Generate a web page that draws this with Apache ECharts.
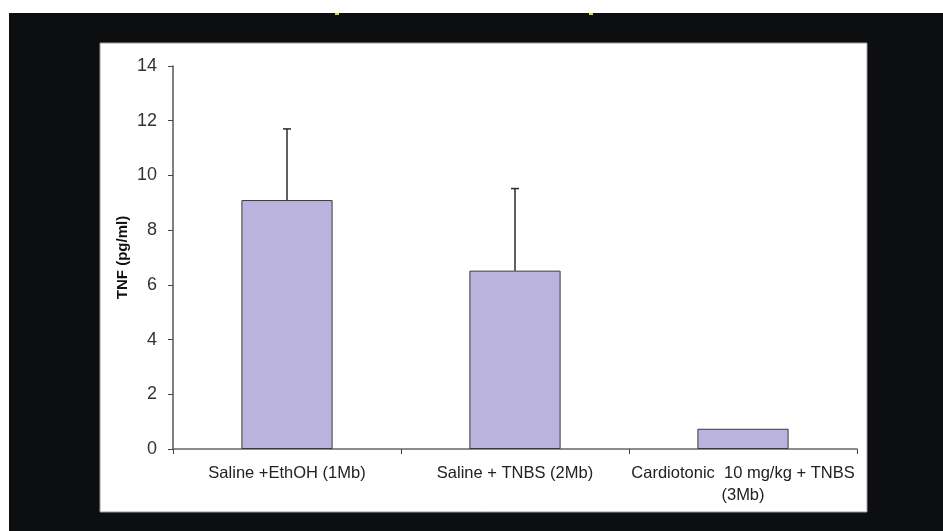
<!DOCTYPE html>
<html>
<head>
<meta charset="utf-8">
<script src="https://cdn.jsdelivr.net/npm/echarts@6/dist/echarts.min.js"></script>
<style>
html,body{margin:0;padding:0;background:#fff;}
#chart{width:943px;height:531px;}
</style>
</head>
<body>
<div id="chart"></div>
<script>
const categories = ['Saline +EthOH (1Mb)', 'Saline + TNBS (2Mb)', 'Cardiotonic  10 mg/kg + TNBS\n(3Mb)'];
const tnfValues = [9.1, 6.52, 0.74];
const tnfErrors = [2.6, 3.0, 0];
const yTicks = { min: 0, max: 14, interval: 2 };
const yAxisTitle = 'TNF (pg/ml)';

const FONT = '"Liberation Sans", Arial, sans-serif';
const chart = echarts.init(document.getElementById('chart'), null, { renderer: 'canvas' });

const errorData = tnfValues.map((v, i) => [i, v, v + tnfErrors[i]]);

chart.setOption({
  backgroundColor: '#ffffff',
  animation: false,
  textStyle: { fontFamily: FONT },
  graphic: [
    { type: 'rect', z: -10, silent: true, shape: { x: 9, y: 13, width: 934, height: 518 }, style: { fill: '#0d0e10' } },
    { type: 'rect', z: -9, silent: true, shape: { x: 100, y: 43, width: 767, height: 469 }, style: { fill: '#ffffff', stroke: '#9a9a9a', lineWidth: 1 } },
    { type: 'rect', z: -8, silent: true, shape: { x: 335, y: 13, width: 4, height: 2 }, style: { fill: '#e8e020' } },
    { type: 'rect', z: -8, silent: true, shape: { x: 589, y: 13, width: 4, height: 2 }, style: { fill: '#e8e020' } }
  ],
  grid: { left: 173, right: 86, top: 66, bottom: 82, containLabel: false },
  xAxis: {
    type: 'category',
    data: categories,
    boundaryGap: true,
    axisLine: { show: true, lineStyle: { color: '#666', width: 1.5 } },
    axisTick: { show: true, inside: false, length: 5, lineStyle: { color: '#444', width: 1 } },
    axisLabel: { fontSize: 16.5, color: '#222', margin: 13, lineHeight: 22, interval: 0, fontFamily: FONT },
    splitLine: { show: false }
  },
  yAxis: {
    type: 'value',
    min: yTicks.min, max: yTicks.max, interval: yTicks.interval,
    name: yAxisTitle,
    nameLocation: 'middle',
    nameRotate: 90,
    nameGap: 43,
    nameMoveOverlap: false,
    nameTextStyle: { fontSize: 15, fontWeight: 'bold', color: '#111', fontFamily: FONT },
    axisLine: { show: true, lineStyle: { color: '#555', width: 1.5 } },
    axisTick: { show: true, inside: false, length: 5, lineStyle: { color: '#444', width: 1 } },
    axisLabel: { fontSize: 18, color: '#333', margin: 16, fontFamily: FONT },
    splitLine: { show: false }
  },
  series: [
    {
      type: 'bar',
      data: tnfValues,
      barWidth: '40%',
      itemStyle: { color: '#b9b3dd', borderColor: '#3a3a3a', borderWidth: 1 },
      z: 2
    },
    {
      type: 'custom',
      data: errorData,
      z: 3,
      renderItem: function (params, api) {
        const x = api.value(0);
        const lo = api.coord([x, api.value(1)]);
        const hi = api.coord([x, api.value(2)]);
        if (api.value(2) - api.value(1) <= 0) return null;
        const half = 4;
        const style = { stroke: '#2a2a2a', lineWidth: 1.5 };
        return {
          type: 'group',
          children: [
            { type: 'line', shape: { x1: lo[0], y1: lo[1], x2: hi[0], y2: hi[1] }, style: style },
            { type: 'line', shape: { x1: hi[0] - half, y1: hi[1], x2: hi[0] + half, y2: hi[1] }, style: style }
          ]
        };
      }
    }
  ]
});
</script>
</body>
</html>
